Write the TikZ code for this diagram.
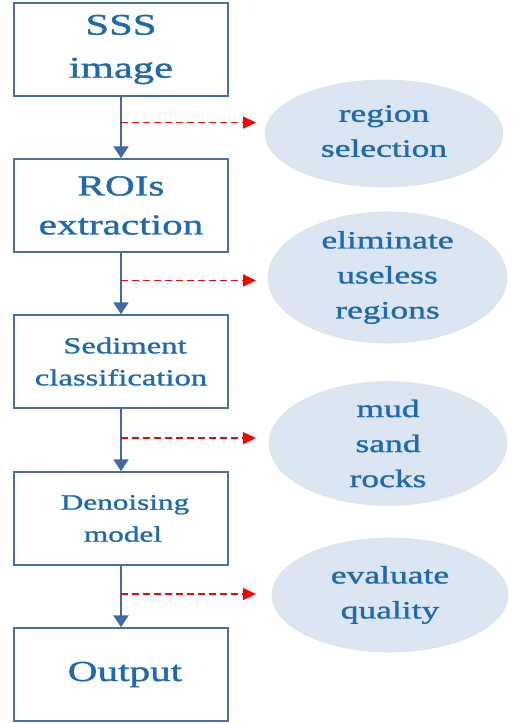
\documentclass[tikz,border=0pt]{standalone}
\usepackage{fontspec}
\setmainfont[FakeStretch=1.42,FakeBold=1.2]{Liberation Serif}
\usetikzlibrary{arrows.meta}
\usetikzlibrary{shapes.geometric}
\usetikzlibrary{calc}
\definecolor{boxblue}{RGB}{74,111,165}
\definecolor{txtblue}{RGB}{30,105,175}
\definecolor{arrblue}{RGB}{65,105,165}
\definecolor{ellfill}{RGB}{219,230,242}
\tikzset{
	stage/.style={rectangle,draw=boxblue,line width=1.5pt,minimum width=214pt,minimum height=93pt,inner sep=0pt,text=txtblue,align=center},
	note/.style={ellipse,draw=black!12,line width=0.6pt,fill=ellfill,inner sep=0pt,text=txtblue,align=center,font=\fontsize{25}{35}\selectfont},
	flow/.style={draw=arrblue,line width=2.3pt,-{Triangle[width=15pt,length=12pt]}},
	hint/.style={draw=red,line width=1.3pt,dash pattern=on 7pt off 4pt,-{Triangle[width=12pt,length=13pt]}}
}

\begin{document}
\begin{tikzpicture}[x=1pt,y=-1pt]
	\useasboundingbox (0,0) rectangle (516,723);
	
	% pipeline
	\node[stage,font=\fontsize{30}{43}\selectfont] (sss) at (121,49.5) {SSS\\image};
	\node[stage,font=\fontsize{29}{39}\selectfont] (roi) at (121,205.5) {ROIs\\extraction};
	\node[stage,font=\fontsize{23}{32}\selectfont] (sed) at (121,361.5) {\hspace*{8pt}Sediment\\classification};
	\node[stage,font=\fontsize{22}{32}\selectfont] (den) at (121,518.5) {\hspace*{8pt}Denoising\\\hspace*{4pt}model};
	\node[stage,font=\fontsize{29}{35}\selectfont] (out) at (121,674.5) {\hspace*{8pt}Output};
	
	\foreach \a/\b in {sss/roi,roi/sed,sed/den,den/out}
		\draw[flow] (\a) -- (\b);
	
	% notes
	\node[note,minimum width=238pt,minimum height=107pt] (sel) at (384,133.5) {region\\selection\\[-30pt]\mbox{}};
	\node[note,minimum width=239pt,minimum height=115pt] (eli) at (387.5,277.5) {eliminate\\useless\\regions};
	\node[note,minimum width=238pt,minimum height=113pt] (mud) at (388,443.5) {mud\\sand\\rocks};
	\node[note,minimum width=236pt,minimum height=114pt] (eva) at (390,595) {evaluate\\quality};
	
	\coordinate (tip) at (256,0);
	\coordinate (h1) at ($(sss.south)!0.42!(roi.north)$);
	\coordinate (h2) at ($(roi.south)!0.45!(sed.north)$);
	\coordinate (h3) at ($(sed.south)!0.47!(den.north)$);
	\coordinate (h4) at ($(den.south)!0.46!(out.north)$);
	\foreach \h in {h1,h2,h3,h4}
		\draw[hint] (\h) -- (\h -| tip);
\end{tikzpicture}
\end{document}
